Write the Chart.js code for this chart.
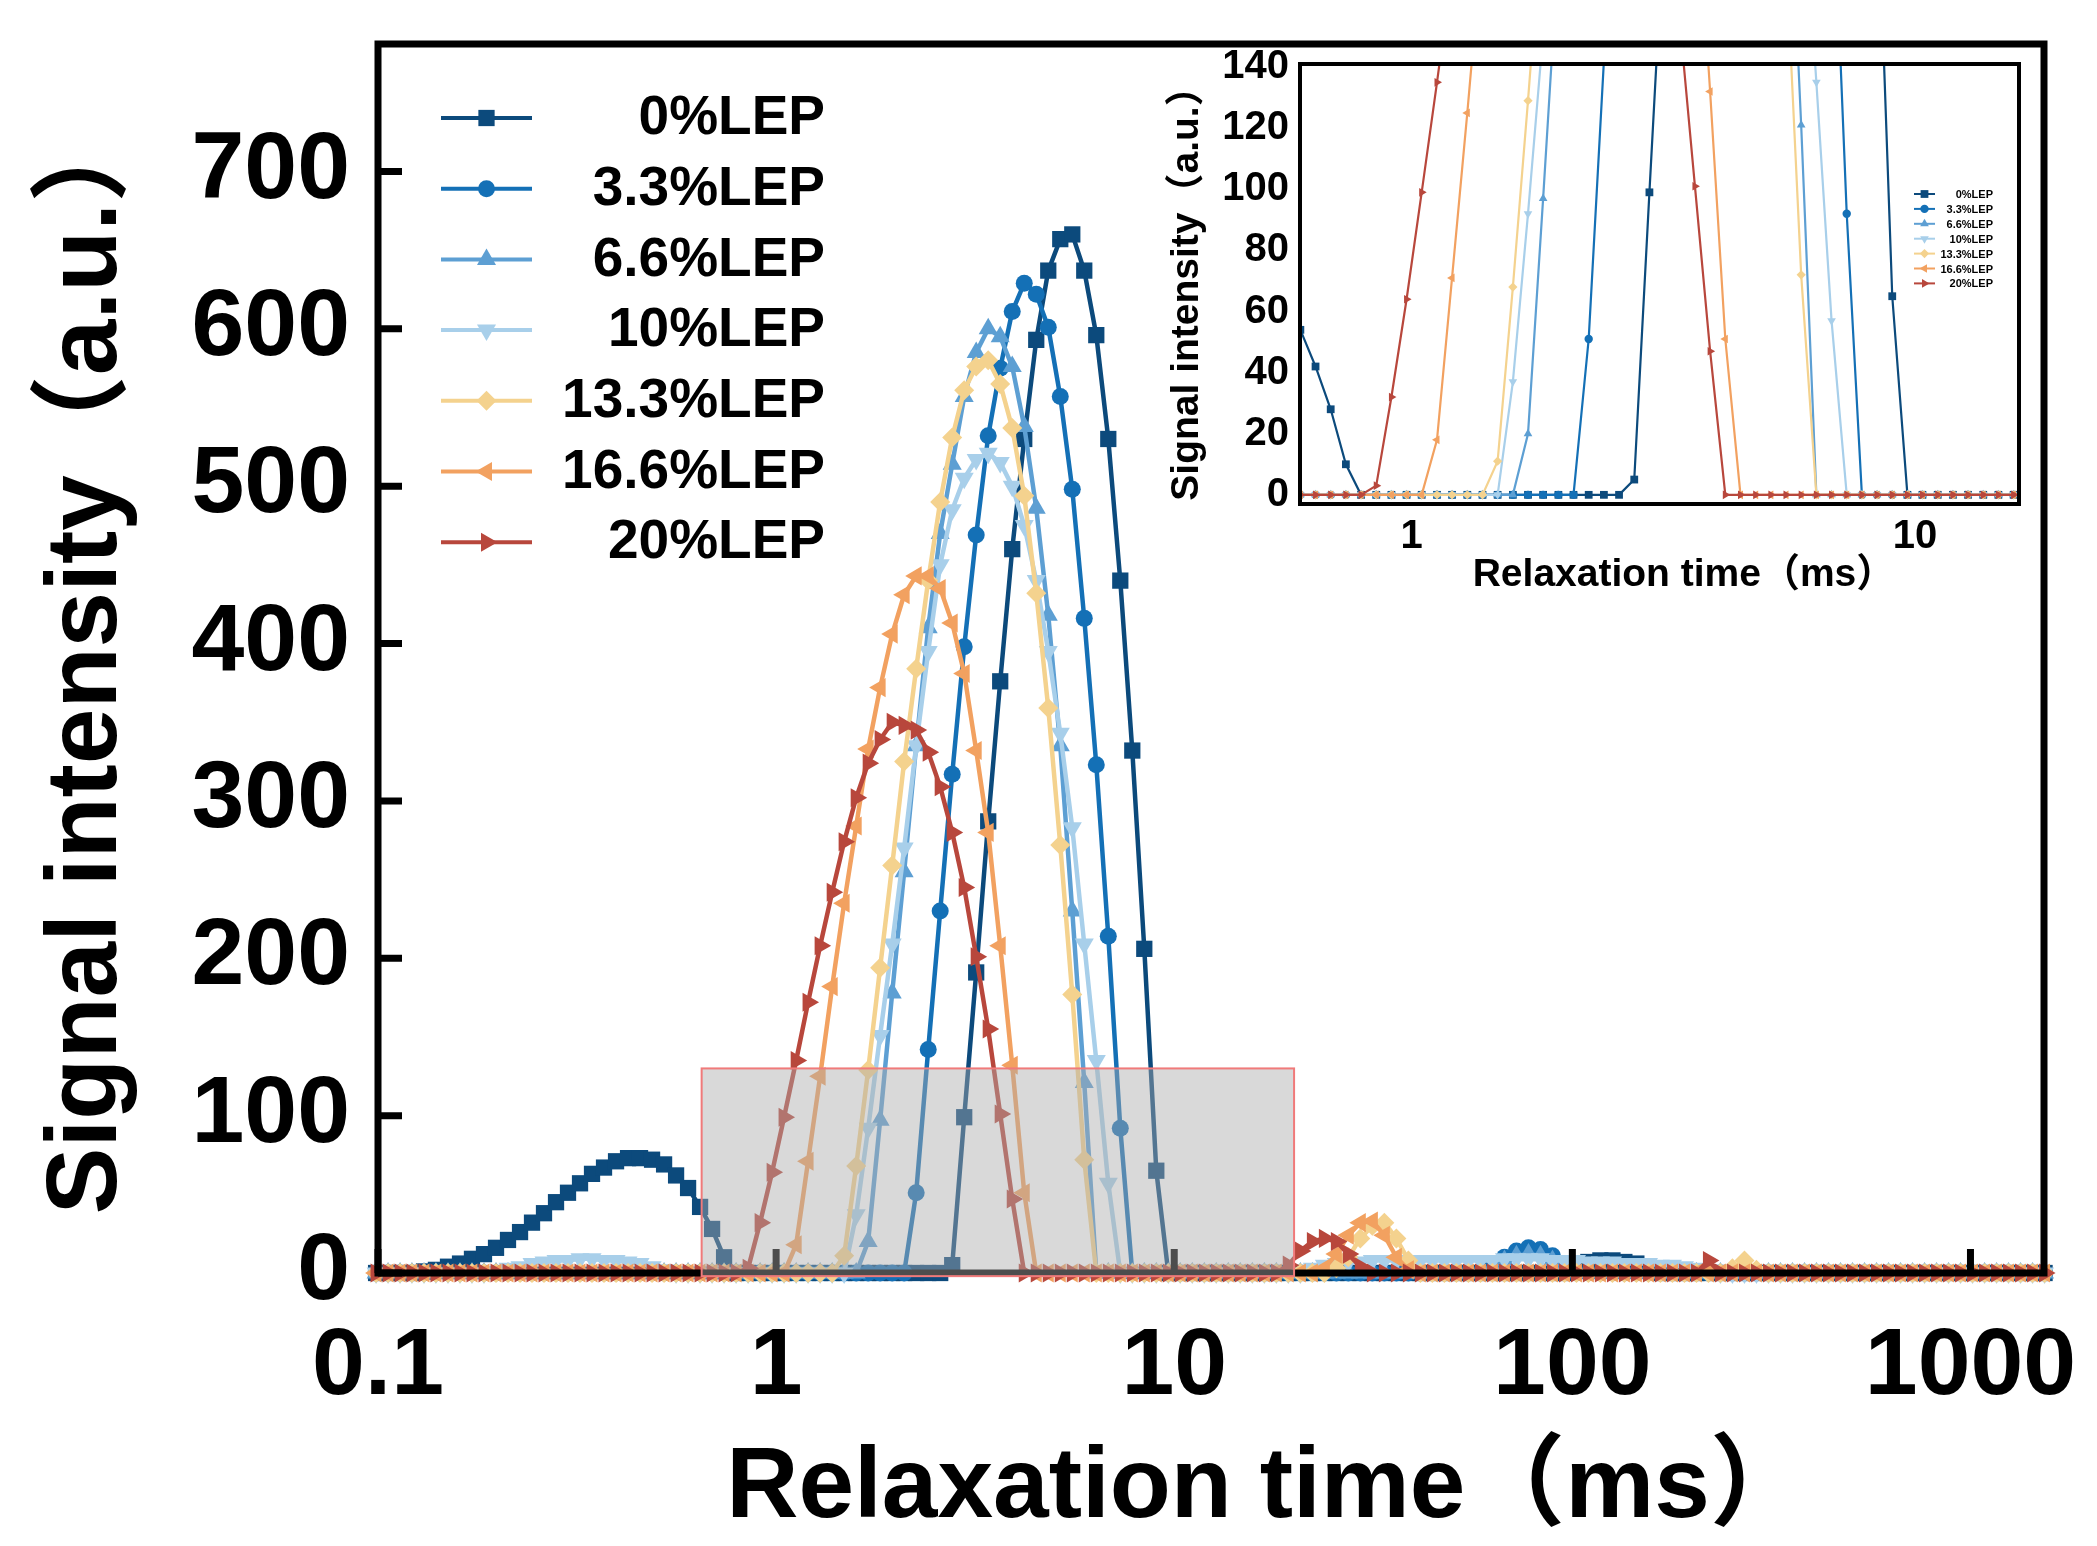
<!DOCTYPE html>
<html>
<head>
<meta charset="utf-8">
<script src="https://cdn.jsdelivr.net/npm/chart.js@4.4.1/dist/chart.umd.min.js"></script>
<style>
  body { margin: 0; background: #fff; }
  #wrap { position: relative; width: 2097px; height: 1546px; }
  #mainChart { position: absolute; left: 0; top: 0; }
  #insetChart { position: absolute; left: 1150px; top: 40px; }
</style>
</head>
<body>
<div id="wrap">
  <canvas id="mainChart" width="2097" height="1546"></canvas>
  <canvas id="insetChart" width="890" height="570"></canvas>
</div>
<script>
const FONT = "'Liberation Sans', Arial, 'Noto Sans CJK SC', sans-serif";

// T2 relaxation times (ms), log spaced
let relaxTime = [
  0.0989, 0.1060, 0.1136, 0.1217, 0.1305, 0.1398, 0.1499, 0.1607, 0.1722, 0.1846,
  0.1979, 0.2121, 0.2274, 0.2437, 0.2612, 0.2800, 0.3001, 0.3217, 0.3448, 0.3696,
  0.3962, 0.4247, 0.4552, 0.4880, 0.5231, 0.5607, 0.6010, 0.6442, 0.6905, 0.7401,
  0.7934, 0.8504, 0.9116, 0.9771, 1.047, 1.123, 1.203, 1.290, 1.383, 1.482,
  1.589, 1.703, 1.825, 1.957, 2.097, 2.248, 2.410, 2.583, 2.769, 2.968,
  3.181, 3.410, 3.655, 3.918, 4.200, 4.502, 4.826, 5.173, 5.545, 5.943,
  6.371, 6.829, 7.320, 7.846, 8.410, 9.015, 9.663, 10.35, 11.10, 11.90,
  12.75, 13.67, 14.65, 15.71, 16.84, 18.05, 19.34, 20.74, 22.23, 23.83,
  25.54, 27.37, 29.34, 31.45, 33.71, 36.14, 38.74, 41.52, 44.51, 47.71,
  51.14, 54.82, 58.76, 62.99, 67.52, 72.37, 77.58, 83.16, 89.14, 95.55,
  102.4, 109.7, 117.6, 126.1, 135.1, 144.8, 155.3, 166.4, 178.4, 191.2,
  205.0, 219.7, 235.5, 252.4, 270.6, 290.0, 310.9, 333.3, 357.2, 382.9,
  410.4, 439.9, 471.6, 505.5, 541.8, 580.8, 622.5, 667.3, 715.3, 766.7,
  821.8, 880.9, 944.2, 1012, 1085, 1163, 1246, 1336, 1432, 1535
];

let lep0 = [
  0, 0, 0, 0, 1, 2, 4, 6, 9, 12,
  16, 21, 26, 32, 38, 45, 51, 57, 63, 67,
  71, 73, 73, 72, 69, 62, 54, 42, 28, 10,
  0, 0, 0, 0, 0, 0, 0, 0, 0, 0,
  0, 0, 0, 0, 0, 0, 0, 0, 5, 99,
  191, 287, 376, 460, 530, 593, 637, 657, 660, 637,
  596, 530, 440, 332, 206, 65, 0, 0, 0, 0,
  0, 0, 0, 0, 0, 0, 0, 0, 0, 0,
  0, 0, 0, 0, 0, 0, 0, 0, 0, 0,
  0, 0, 0, 0, 0, 0, 0, 0, 0, 0,
  4, 7, 8, 8, 7, 6, 3, 0, 0, 0,
  0, 0, 0, 0, 0, 0, 0, 0, 0, 0,
  0, 0, 0, 0, 0, 0, 0, 0, 0, 0,
  0, 0, 0, 0, 0, 0, 0, 0, 0, 0
];

let lep33 = [
  0, 0, 0, 0, 0, 0, 0, 0, 0, 0,
  0, 0, 0, 0, 0, 0, 0, 0, 0, 0,
  0, 0, 0, 0, 0, 0, 0, 0, 0, 0,
  0, 0, 0, 0, 0, 0, 0, 0, 0, 0,
  0, 0, 0, 0, 0, 51, 142, 230, 317, 398,
  469, 532, 575, 611, 629, 622, 601, 557, 498, 416,
  323, 214, 92, 0, 0, 0, 0, 0, 0, 0,
  0, 0, 0, 0, 0, 0, 0, 0, 0, 0,
  0, 0, 0, 0, 0, 0, 0, 0, 0, 0,
  0, 0, 0, 5, 10, 14, 16, 15, 11, 5,
  0, 0, 0, 0, 0, 0, 0, 0, 0, 0,
  0, 0, 0, 0, 0, 0, 0, 0, 0, 0,
  0, 0, 0, 0, 0, 0, 0, 0, 0, 0,
  0, 0, 0, 0, 0, 0, 0, 0, 0, 0
];

let lep66 = [
  0, 0, 0, 0, 0, 0, 0, 0, 0, 0,
  0, 0, 0, 0, 0, 0, 0, 0, 0, 0,
  0, 0, 0, 0, 0, 0, 0, 0, 0, 0,
  0, 0, 0, 0, 0, 0, 0, 0, 0, 0,
  0, 20, 97, 178, 255, 335, 410, 470, 514, 557,
  585, 600, 595, 576, 538, 486, 418, 335, 230, 121,
  0, 0, 0, 0, 0, 0, 0, 0, 0, 0,
  0, 0, 0, 0, 0, 0, 0, 0, 0, 0,
  0, 0, 0, 0, 0, 0, 0, 0, 0, 0,
  0, 0, 0, 4, 8, 11, 12, 11, 8, 4,
  2, 0, 0, 0, 0, 0, 0, 0, 0, 0,
  0, 0, 0, 0, 0, 0, 0, 0, 0, 0,
  0, 0, 0, 0, 0, 0, 0, 0, 0, 0,
  0, 0, 0, 0, 0, 0, 0, 0, 0, 0
];

let lep10 = [
  0, 0, 0, 0, 0, 0, 0, 0, 0, 0,
  1, 3, 4, 6, 7, 8, 8, 9, 9, 8,
  8, 7, 6, 4, 2, 0, 0, 0, 0, 0,
  0, 0, 0, 0, 0, 0, 0, 0, 0, 0,
  37, 92, 151, 209, 270, 335, 395, 450, 485, 505,
  517, 521, 515, 500, 475, 440, 395, 343, 283, 209,
  135, 57, 0, 0, 0, 0, 0, 0, 0, 0,
  0, 0, 0, 0, 0, 0, 0, 0, 3, 5,
  6, 7, 7, 8, 8, 8, 8, 8, 8, 8,
  8, 8, 8, 8, 9, 9, 9, 9, 8, 8,
  8, 7, 7, 7, 6, 6, 6, 5, 5, 4,
  3, 2, 0, 0, 0, 0, 0, 0, 0, 0,
  0, 0, 0, 0, 0, 0, 0, 0, 0, 0,
  0, 0, 0, 0, 0, 0, 0, 0, 0, 0
];

let lep133 = [
  0, 0, 0, 0, 0, 0, 0, 0, 0, 0,
  0, 0, 0, 0, 0, 0, 0, 0, 0, 0,
  0, 0, 0, 0, 0, 0, 0, 0, 0, 0,
  0, 0, 0, 0, 0, 0, 0, 0, 0, 11,
  68, 129, 194, 259, 325, 384, 440, 490, 531, 561,
  576, 580, 565, 537, 494, 432, 359, 272, 177, 72,
  0, 0, 0, 0, 0, 0, 0, 0, 0, 0,
  0, 0, 0, 0, 0, 0, 0, 0, 0, 0,
  3, 10, 22, 30, 32, 22, 8, 0, 0, 0,
  0, 0, 0, 0, 0, 0, 0, 0, 0, 0,
  0, 0, 0, 0, 0, 0, 0, 0, 0, 0,
  0, 0, 0, 3, 8, 2, 0, 0, 0, 0,
  0, 0, 0, 0, 0, 0, 0, 0, 0, 0,
  0, 0, 0, 0, 0, 0, 0, 0, 0, 0
];

let lep166 = [
  0, 0, 0, 0, 0, 0, 0, 0, 0, 0,
  0, 0, 0, 0, 0, 0, 0, 0, 0, 0,
  0, 0, 0, 0, 0, 0, 0, 0, 0, 0,
  0, 0, 0, 0, 0, 18, 71, 125, 182, 235,
  284, 333, 372, 406, 431, 443, 443, 435, 413, 381,
  332, 280, 208, 132, 51, 0, 0, 0, 0, 0,
  0, 0, 0, 0, 0, 0, 0, 0, 0, 0,
  0, 0, 0, 0, 0, 0, 0, 0, 0, 3,
  12, 24, 32, 33, 24, 10, 2, 0, 0, 0,
  0, 0, 0, 0, 0, 0, 0, 0, 0, 0,
  0, 0, 0, 0, 0, 0, 0, 0, 0, 0,
  0, 0, 0, 0, 0, 0, 0, 0, 0, 0,
  0, 0, 0, 0, 0, 0, 0, 0, 0, 0,
  0, 0, 0, 0, 0, 0, 0, 0, 0, 0
];

let lep20 = [
  0, 0, 0, 0, 0, 0, 0, 0, 0, 0,
  0, 0, 0, 0, 0, 0, 0, 0, 0, 0,
  0, 0, 0, 0, 0, 0, 0, 0, 0, 0,
  0, 3, 32, 64, 99, 135, 172, 208, 242, 274,
  302, 324, 339, 350, 348, 345, 331, 309, 280, 245,
  201, 155, 101, 47, 0, 0, 0, 0, 0, 0,
  0, 0, 0, 0, 0, 0, 0, 0, 0, 0,
  0, 0, 0, 0, 0, 0, 5, 14, 20, 22,
  20, 12, 4, 0, 0, 0, 0, 0, 0, 0,
  0, 0, 0, 0, 0, 0, 0, 0, 0, 0,
  0, 0, 0, 0, 0, 0, 0, 0, 0, 0,
  0, 8, 0, 0, 0, 0, 0, 0, 0, 0,
  0, 0, 0, 0, 0, 0, 0, 0, 0, 0,
  0, 0, 0, 0, 0, 0, 0, 0, 0, 0
];

let seriesValues = [lep0, lep33, lep66, lep10, lep133, lep166, lep20];
let seriesNames = ['0%LEP', '3.3%LEP', '6.6%LEP', '10%LEP', '13.3%LEP', '16.6%LEP', '20%LEP'];
let seriesColors = ['#0c4a7c', '#1470b6', '#5d9fd3', '#a8cfea', '#f4d28e', '#f2a160', '#b8473c'];
let pointStyles = ['rect', 'circle', 'triangle', 'triangle', 'rectRot', 'triangle', 'triangle'];
let pointRotations = [0, 0, 0, 180, 0, 270, 90];

let mainXTicks = [0.1, 1, 10, 100, 1000];
let mainYTicks = [0, 100, 200, 300, 400, 500, 600, 700];
let insetXTicks = [1, 10];
let insetYTicks = [0, 20, 40, 60, 80, 100, 120, 140];

let xTitle = 'Relaxation time（ms）';
let yTitle = 'Signal intensity（a.u.）';

// zoomed region marked on the main plot (data units)
let zoomRange = [0.65, 20, -2, 130];

// marker sizes per style: [main, inset]
let radiusFor = { rect: [11.5, 5.5], circle: [8.5, 4.2], triangle: [11, 5], rectRot: [10, 4.6] };

function makeDatasets(which, lineWidth, clip) {
  return seriesValues.map((vals, k) => ({
    label: seriesNames[k],
    data: relaxTime.map((t, j) => ({ x: t, y: vals[j] })),
    borderColor: seriesColors[k],
    backgroundColor: seriesColors[k],
    borderWidth: lineWidth,
    pointStyle: pointStyles[k],
    pointRotation: pointRotations[k],
    pointRadius: radiusFor[pointStyles[k]][which],
    pointBorderWidth: 0,
    pointBackgroundColor: seriesColors[k],
    tension: 0,
    clip: clip,
    order: seriesNames.length - k
  }));
}

function drawMarker(ctx, k, x, y, r) {
  ctx.fillStyle = seriesColors[k];
  Chart.helpers.drawPoint(ctx, {
    pointStyle: pointStyles[k], radius: r, rotation: pointRotations[k], borderWidth: 0
  }, x, y);
}

function legendPlugin(id, opt) {
  return {
    id: id,
    afterDraw(chart) {
      let ctx = chart.ctx;
      ctx.save();
      ctx.font = 'bold ' + opt.size + 'px ' + FONT;
      ctx.textAlign = 'right';
      ctx.textBaseline = 'middle';
      seriesNames.forEach((name, k) => {
        let y = opt.top + k * opt.step;
        ctx.strokeStyle = seriesColors[k];
        ctx.lineWidth = opt.lineWidth;
        ctx.beginPath();
        ctx.moveTo(opt.x1, y);
        ctx.lineTo(opt.x2, y);
        ctx.stroke();
        drawMarker(ctx, k, (opt.x1 + opt.x2) / 2, y, radiusFor[pointStyles[k]][opt.which]);
        ctx.fillStyle = '#000';
        ctx.fillText(name, opt.textRight, y + 1);
      });
      ctx.restore();
    }
  };
}

// x-axis title placed by hand (full-width brackets leave blank space on the right)
function xTitlePlugin(id, size, cx, cy) {
  return {
    id: id,
    afterDraw(chart) {
      let ctx = chart.ctx;
      ctx.save();
      ctx.font = 'bold ' + size + 'px ' + FONT;
      ctx.fillStyle = '#000';
      ctx.textAlign = 'center';
      ctx.textBaseline = 'middle';
      ctx.fillText(xTitle, cx, cy);
      ctx.restore();
    }
  };
}

let mainFrame = {
  id: 'mainFrame',
  afterDatasetsDraw(chart) {
    let { ctx, chartArea: a, scales } = chart;
    ctx.save();
    ctx.strokeStyle = '#000';
    ctx.lineWidth = 7;
    ctx.strokeRect(a.left, a.top, a.right - a.left, a.bottom - a.top);
    ctx.beginPath();
    mainXTicks.forEach(v => {
      let px = scales.x.getPixelForValue(v);
      ctx.moveTo(px, a.bottom);
      ctx.lineTo(px, a.bottom - 24);
    });
    mainYTicks.forEach(v => {
      let py = scales.y.getPixelForValue(v);
      ctx.moveTo(a.left, py);
      ctx.lineTo(a.left + 24, py);
    });
    ctx.stroke();

    // grey highlight of the zoomed window
    let x1 = scales.x.getPixelForValue(zoomRange[0]);
    let x2 = scales.x.getPixelForValue(zoomRange[1]);
    let y1 = scales.y.getPixelForValue(zoomRange[3]);
    let y2 = scales.y.getPixelForValue(zoomRange[2]);
    ctx.fillStyle = 'rgba(170,170,170,0.45)';
    ctx.fillRect(x1, y1, x2 - x1, y2 - y1);
    ctx.strokeStyle = '#f07a7a';
    ctx.lineWidth = 2;
    ctx.strokeRect(x1, y1, x2 - x1, y2 - y1);
    ctx.restore();
  }
};

let insetFrame = {
  id: 'insetFrame',
  afterDatasetsDraw(chart) {
    let { ctx, chartArea: a } = chart;
    ctx.save();
    ctx.strokeStyle = '#000';
    ctx.lineWidth = 4;
    ctx.strokeRect(a.left, a.top, a.right - a.left, a.bottom - a.top);
    ctx.restore();
  }
};

function axisFont(size) {
  return { family: FONT, size: size, weight: 'bold' };
}

// fixed scale boxes, no extra room for overhanging labels
function fixSize(prop, size) {
  return s => {
    s[prop] = size;
    s.paddingTop = 0; s.paddingBottom = 0; s.paddingLeft = 0; s.paddingRight = 0;
  };
}

let mainChart = new Chart(document.getElementById('mainChart'), {
  type: 'line',
  data: { datasets: makeDatasets(0, 4.5, false) },
  options: {
    responsive: false,
    animation: false,
    devicePixelRatio: 1,
    layout: { padding: { left: 0, top: 44, right: 53, bottom: 0 } },
    plugins: { legend: { display: false }, tooltip: { enabled: false } },
    scales: {
      x: {
        type: 'logarithmic',
        min: 0.1,
        max: 1530,
        afterFit: fixSize('height', 273),
        afterBuildTicks: s => { s.ticks = mainXTicks.map(v => ({ value: v })); },
        grid: { display: false, drawTicks: false },
        border: { display: false },
        ticks: {
          font: axisFont(95), color: '#000', padding: 38,
          autoSkip: false, maxRotation: 0, minRotation: 0,
          callback: v => String(v)
        },
        title: { display: false }
      },
      y: {
        min: 0,
        max: 781,
        afterFit: fixSize('width', 378),
        afterBuildTicks: s => { s.ticks = mainYTicks.map(v => ({ value: v })); },
        grid: { display: false, drawTicks: false },
        border: { display: false },
        ticks: { font: axisFont(95), color: '#000', padding: 28 },
        title: {
          display: true, text: yTitle, color: '#000',
          font: axisFont(100), padding: { top: 28, bottom: 0 }
        }
      }
    }
  },
  plugins: [mainFrame, xTitlePlugin('mainXTitle', 100, 1268, 1489), legendPlugin('mainLegend', {
    which: 0, x1: 441, x2: 532, textRight: 825, top: 118, step: 70.7, size: 55, lineWidth: 4
  })]
});

let insetChart = new Chart(document.getElementById('insetChart'), {
  type: 'line',
  data: { datasets: makeDatasets(1, 2.2, true) },
  options: {
    responsive: false,
    animation: false,
    devicePixelRatio: 1,
    layout: { padding: { left: 0, top: 24, right: 21, bottom: 0 } },
    plugins: { legend: { display: false }, tooltip: { enabled: false } },
    scales: {
      x: {
        type: 'logarithmic',
        min: 0.607,
        max: 16.1,
        afterFit: fixSize('height', 106),
        afterBuildTicks: s => { s.ticks = insetXTicks.map(v => ({ value: v })); },
        grid: { display: false, drawTicks: false },
        border: { display: false },
        ticks: {
          font: axisFont(40), color: '#000', padding: 9,
          autoSkip: false, maxRotation: 0, minRotation: 0,
          callback: v => String(v)
        },
        title: { display: false }
      },
      y: {
        min: -3,
        max: 141,
        afterFit: fixSize('width', 150),
        afterBuildTicks: s => { s.ticks = insetYTicks.map(v => ({ value: v })); },
        grid: { display: false, drawTicks: false },
        border: { display: false },
        ticks: { font: axisFont(40), color: '#000', padding: 11 },
        title: {
          display: true, text: yTitle, color: '#000',
          font: axisFont(39), padding: { top: 14, bottom: 0 }
        }
      }
    }
  },
  plugins: [insetFrame, xTitlePlugin('insetXTitle', 39, 534, 535), legendPlugin('insetLegend', {
    which: 1, x1: 764, x2: 785, textRight: 843, top: 154, step: 14.9, size: 11, lineWidth: 2
  })]
});
</script>
</body>
</html>
